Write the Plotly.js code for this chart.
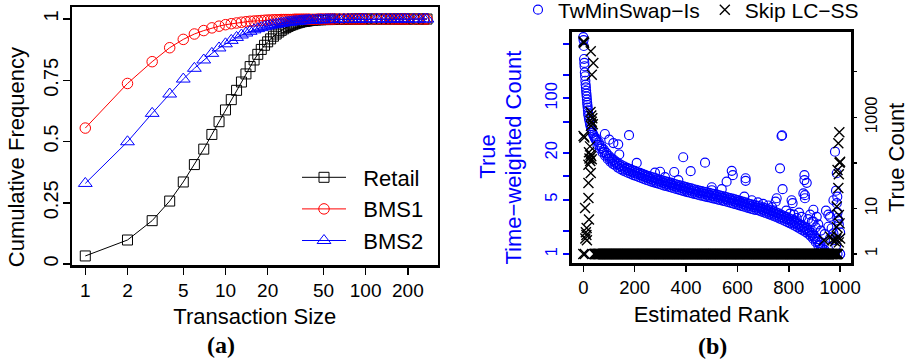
<!DOCTYPE html>
<html>
<head>
<meta charset="utf-8">
<script src="https://cdn.plot.ly/plotly-3.0.1.min.js"></script>
<style>html,body{margin:0;padding:0;background:#fff;}#chart{width:913px;height:363px;}</style>
</head>
<body>
<div id="chart"></div>
<script>
// ---------- Panel (a): cumulative frequency of transaction size ----------
const transactionSize = [1,2,3,4,5,6,7,8,9,10,11,12,13,14,15,16,17,18,19,20,21,22,23,24,25,26,27,28,29,30,31,32,33,34,35,36,37,38,39,40,42,44,46,48,50,52,54,56,58,60,65,70,75,80,85,90,95,100,110,120,130,140,150,160,170,180,190,200,220,240,260,274];
const retailCdf = [0.033,0.098,0.177,0.257,0.335,0.406,0.469,0.529,0.581,0.629,
  0.671,0.709,0.743,0.776,0.806,0.833,0.856,0.876,0.893,0.907,
  0.919,0.930,0.939,0.947,0.954,0.960,0.965,0.970,0.974,0.977,
  0.980,0.983,0.985,0.987,0.989,0.990,0.991,0.992,0.993,0.994,
  0.995,0.996,0.997,0.997,0.998,0.998,0.998,0.998,0.999,0.999,
  0.999,0.999,0.999,1,1,1,1,1,
  1,1,1,1,1,1,1,1,1,1,
  1,1,1,1];
const bms1Cdf = [0.555,0.737,0.826,0.883,0.917,0.939,0.953,0.964,0.971,0.977,
  0.981,0.984,0.987,0.989,0.991,0.992,0.993,0.994,0.995,0.996,
  0.996,0.997,0.997,0.997,0.998,0.998,0.998,0.998,0.998,0.998,
  0.999,0.999,0.999,0.999,0.999,0.999,0.999,0.999,0.999,0.999,
  0.999,0.999,1,1,1,1,1,1,1,1,
  1,1,1,1,1,1,1,1,
  1,1,1,1,1,1,1,1,1,1,
  1,1,1,1];
const bms2Cdf = [0.329,0.499,0.615,0.694,0.755,0.799,0.833,0.860,0.882,0.899,
  0.913,0.925,0.935,0.943,0.950,0.956,0.961,0.965,0.969,0.972,
  0.975,0.977,0.979,0.981,0.983,0.984,0.986,0.987,0.988,0.989,
  0.990,0.991,0.991,0.992,0.993,0.993,0.994,0.994,0.995,0.995,
  0.996,0.996,0.997,0.997,0.997,0.998,0.998,0.998,0.998,0.998,
  0.998,0.999,0.999,0.999,0.999,0.999,1,1,
  1,1,1,1,1,1,1,1,1,1,
  1,1,1,1];
const sizeTicks = [1,2,5,10,20,50,100,200];
const freqTicks = [0,0.25,0.5,0.75,1];
const freqTickText = ['0','0.25','0.5','0.75','1'];

// ---------- Panel (b): true counts vs estimated rank ----------
const twHeadRank = [0,1,2,3,4,5,6,7,8,9,10,11,12,13,14,15,16,17,18,19,20,22,24,26,28,30,33,36,39,42,45,48];
const twHeadCount = [610,560,470,320,285,258,215,192,168,150,138,125,115,106,97,88,82,76,70,64,60,55,51,47,44,41.5,38.5,36,34,32.5,31,29.5];
const twMainRank = [50,55,60,65,70,75,80,85,90,95,100,105,110,115,120,125,130,135,140,145,
  150,155,160,165,170,175,180,185,190,195,200,205,210,215,220,225,230,235,240,245,
  250,255,260,265,270,275,280,285,290,295,300,305,310,315,320,325,330,335,340,345,
  350,355,360,365,370,375,380,385,390,395,400,405,410,415,420,425,430,435,440,445,
  450,455,460,465,470,475,480,485,490,495,500,505,510,515,520,525,530,535,540,545,
  550,555,560,565,570,575,580,585,590,595,600,605,610,615,620,625,630,635,640,645,
  650,655,660,665,670,675,680,685,690,695,700,705,710,715,720,725,730,735,740,745,
  750,755,760,765,770,775,780,785,790,795,800,805,810,815,820,825,830,835,840,845,
  850,855,860,865,870,875,880,885,890,895,900,905,910,915,920,925,930,935,940,945,
  950,960,970,980,990,1000];
const twMainCount = [30.5,25.2,27.1,22.5,24.4,20.2,21.9,18.3,19.9,16.6,
  18.2,15.4,17.0,14.4,16.1,13.7,15.2,12.9,14.4,12.3,
  13.8,11.8,13.3,11.4,12.8,11.0,12.4,10.7,12.0,10.3,
  11.7,10.05,11.3,9.77,11.0,9.49,10.7,9.21,10.4,8.95,
  10.1,8.72,9.84,8.51,9.63,8.32,9.42,8.13,9.2,7.95,
  8.99,7.76,8.77,7.57,8.56,7.41,8.4,7.27,8.24,7.11,
  8.03,6.94,7.86,6.8,7.7,6.66,7.54,6.52,7.38,6.38,
  7.22,6.24,7.06,6.12,6.96,6.01,6.79,5.89,6.69,5.77,
  6.53,5.66,6.42,5.56,6.31,5.47,6.21,5.38,6.1,5.28,
  5.99,5.19,5.89,5.1,5.78,5.0,5.67,4.91,5.56,4.82,
  5.46,4.72,5.35,4.63,5.24,4.53,5.14,4.44,5.03,4.35,
  4.92,4.25,4.82,4.16,4.71,4.07,4.6,3.97,4.49,3.88,
  4.39,3.79,4.28,3.72,4.23,3.67,4.17,3.6,4.07,3.51,
  3.96,3.41,3.85,3.32,3.75,3.23,3.64,3.13,3.53,3.04,
  3.42,2.95,3.32,2.85,3.21,2.76,3.1,2.66,3.0,2.57,
  2.89,2.48,2.78,2.38,2.68,2.29,2.57,2.2,2.46,2.1,
  2.35,2.01,2.25,1.92,2.14,1.82,2.03,1.71,1.87,1.57,
  1.71,1.43,1.55,1.29,1.39,1.15,1.23,1.03,1.12,1.0,
  1,1,1,1,1,1];
const twMidRank = [52,62,72,82,92,102,112,122,132,142,152,162,172,182,192,202,212,222,232,242,
  252,262,272,282,292,302,312,322,332,342,352,362,372,382,392,402,412,422,432,442,
  452,462,472,482,492,502,512,522,532,542,552,562,572,582,592,602,612,622,632,642,
  652,662,672,682,692,702,712,722,732,742,752,762,772,782,792,802,812,822,832,842,
  852,862,872,882,892,902,912,922,932,942];
const twMidCount = [28.5,25.3,22.8,20.5,18.6,17.0,15.9,15.0,14.2,13.5,12.9,12.4,12.0,11.6,11.2,10.9,10.6,10.3,10.0,9.7,
  9.45,9.2,9.0,8.8,8.6,8.4,8.2,8.0,7.85,7.7,7.5,7.35,7.2,7.05,6.9,6.75,6.6,6.5,6.35,6.25,
  6.1,6.0,5.9,5.8,5.7,5.6,5.5,5.4,5.3,5.2,5.1,5.0,4.9,4.8,4.7,4.6,4.5,4.4,4.3,4.2,
  4.1,4.0,3.95,3.9,3.8,3.7,3.6,3.5,3.4,3.3,3.2,3.1,3.0,2.9,2.8,2.7,2.6,2.5,2.4,2.3,
  2.2,2.1,2.0,1.9,1.75,1.6,1.45,1.3,1.15,1.05];
const twOutRank = [26,84,101,117,136,140,178,208,279,299,318,354,370,389,418,474,
  500,500,539,558,578,582,627,632,632,656,680,700,720,735,749,753,766,772,774,776,
  790,805,811,815,820,831,840,850,857,861,861,863,863,870,875,883,890,896,896,905,
  909,915,925,940,945,954,954,961,961,967,974,974,975,980,984,985,987,987,989,989,
  990,993,995,1000,1000];
const twOutCount = [1,34.8,29.4,26.6,25.6,19.0,33.6,14.8,11.1,11.4,9.7,11.3,8.9,17.5,11.6,14.9,
  7.2,6.6,6.8,8.5,11.7,10.3,5.45,9.4,8.7,4.9,4.6,4.4,4.2,4.0,4.7,5.2,12.6,32.8,33.5,6.8,
  3.6,3.3,4.9,4.5,3.2,2.9,3.4,3.0,6.0,10.3,8.9,5.7,5.2,8.2,2.8,3.2,2.6,3.7,2.6,2.2,
  3.0,2.4,2.0,1.8,3.6,3.2,2.24,3.0,1.6,2.14,4.9,1.84,1.5,20.6,6.5,1.3,10.9,4.5,5.45,2.9,
  3.4,2.7,2.4,1.9,1.0];

const skipBandRank = [45,50,55,60,65,70,75,80,85,90,95,100,105,110,115,120,125,130,135,140,
  145,150,155,160,165,170,175,180,185,190,195,200,205,210,215,220,225,230,235,240,
  245,250,255,260,265,270,275,280,285,290,295,300,305,310,315,320,325,330,335,340,
  345,350,355,360,365,370,375,380,385,390,395,400,405,410,415,420,425,430,435,440,
  445,450,455,460,465,470,475,480,485,490,495,500,505,510,515,520,525,530,535,540,
  545,550,555,560,565,570,575,580,585,590,595,600,605,610,615,620,625,630,635,640,
  645,650,655,660,665,670,675,680,685,690,695,700,705,710,715,720,725,730,735,740,
  745,750,755,760,765,770,775,780,785,790,795,800,805,810,815,820,825,830,835,840,
  845,850,855,860,865,870,875,880,885,890,895,900,905,910,915,920,925,930,935,940,
  945,950,955,960,965,970,975,980,985,990];
const skipBandCount = [1,1,1,1,1,1,1,1,1,1,1,1,1,1,1,1,1,1,1,1,
  1,1,1,1,1,1,1,1,1,1,1,1,1,1,1,1,1,1,1,1,
  1,1,1,1,1,1,1,1,1,1,1,1,1,1,1,1,1,1,1,1,
  1,1,1,1,1,1,1,1,1,1,1,1,1,1,1,1,1,1,1,1,
  1,1,1,1,1,1,1,1,1,1,1,1,1,1,1,1,1,1,1,1,
  1,1,1,1,1,1,1,1,1,1,1,1,1,1,1,1,1,1,1,1,
  1,1,1,1,1,1,1,1,1,1,1,1,1,1,1,1,1,1,1,1,
  1,1,1,1,1,1,1,1,1,1,1,1,1,1,1,1,1,1,1,1,
  1,1,1,1,1,1,1,1,1,1,1,1,1,1,1,1,1,1,1,1,
  1,1,1,1,1,1,1,1,1,1];
const skipOutRank = [1,2,3,29,39,33,28,31,35,33,37,30,1,4,26,22,28,31,24,33,27,20,29,20,20,7,22,13,10,12,8,14,0,6,
  997,993,1000,998,990,995,993,987,995,998,987,937,961,970,980,990,1000,985,995];
const skipOutCount = [46000,44000,43000,28000,15500,8600,1300,1100,950,800,700,650,390,360,230,170,150,140,125,120,110,91,60,36,17,10.2,5.7,3.7,3.0,2.6,2.2,2.0,1,1,
  470,270,106,100,70,56,28,11,7.2,4.7,3.9,2.0,2.4,2.0,1.9,2.4,2.2,2.1,1.8];
const rankTicks = [0,200,400,600,800,1000];
const twTicks = [1,2,5,10,20,50,100,200,500];
const twTickText = ['1','','5','','20','','100','',''];
const countTicks = [1,10,100,1000,10000];
const countTickText = ['1','10','','1000',''];

const FONT = '"Liberation Sans", Arial, Helvetica, sans-serif';
const SERIF = '"Liberation Serif", "Times New Roman", serif';
const BLUE = '#0000ff';
const GAP = '\u00a0\u00a0';

const traces = [
  {x: transactionSize, y: retailCdf, name: GAP + 'Retail', type: 'scatter', mode: 'lines+markers',
   xaxis: 'x', yaxis: 'y', legend: 'legend',
   line: {color: '#000000', width: 1}, marker: {symbol: 'square-open', size: 10, color: '#000000', line: {width: 1}}},
  {x: transactionSize, y: bms1Cdf, name: GAP + 'BMS1', type: 'scatter', mode: 'lines+markers',
   xaxis: 'x', yaxis: 'y', legend: 'legend',
   line: {color: '#ff0000', width: 1}, marker: {symbol: 'circle-open', size: 10.5, color: '#ff0000', line: {width: 1}}},
  {x: transactionSize, y: bms2Cdf, name: GAP + 'BMS2', type: 'scatter', mode: 'lines+markers',
   xaxis: 'x', yaxis: 'y', legend: 'legend',
   line: {color: BLUE, width: 1}, marker: {symbol: 'triangle-up-open', size: 12, color: BLUE, line: {width: 1}}},
  {x: twHeadRank.concat(twMainRank, twMidRank, twOutRank), y: twHeadCount.concat(twMainCount, twMidCount, twOutCount),
   name: 'TwMinSwap\u2212Is', type: 'scatter', mode: 'markers', xaxis: 'x2', yaxis: 'y2', legend: 'legend2',
   marker: {symbol: 'circle-open', size: 9, color: BLUE, line: {width: 1.15}}},
  {x: skipOutRank, y: skipOutCount, legendgroup: 'skip',
   name: 'Skip LC\u2212SS', type: 'scatter', mode: 'markers', xaxis: 'x2', yaxis: 'y3', legend: 'legend2',
   marker: {symbol: 'x-thin-open', size: 10, color: '#000000', line: {width: 1.4, color: '#000000'}}},
  {x: skipBandRank, y: skipBandCount, legendgroup: 'skip', showlegend: false,
   name: 'Skip LC\u2212SS', type: 'scatter', mode: 'markers', xaxis: 'x2', yaxis: 'y3', legend: 'legend2',
   marker: {symbol: 'x-thin-open', size: 10, color: '#000000', line: {width: 2.4, color: '#000000'}}}
];

const baseAxis = {showgrid: false, zeroline: false, showline: true, mirror: true, linecolor: '#000', linewidth: 2.5,
  ticks: 'outside', tickcolor: '#000', automargin: false};

const layout = {
  width: 913, height: 363,
  margin: {l: 0, r: 0, t: 0, b: 0, autoexpand: false},
  paper_bgcolor: '#fff', plot_bgcolor: '#fff',
  font: {family: FONT, color: '#000', size: 20},
  showlegend: true,
  xaxis: Object.assign({}, baseAxis, {
    domain: [72/913, 437.7/913], anchor: 'y', type: 'log', range: [-0.0948, 2.514],
    tickmode: 'array', tickvals: sizeTicks, ticktext: sizeTicks.map(String),
    ticklen: 7, tickwidth: 1.5, tickfont: {size: 19, family: FONT},
    title: {text: 'Transaction Size', font: {size: 22, family: FONT}, standoff: 9}
  }),
  yaxis: Object.assign({}, baseAxis, {
    domain: [1 - 265/363, 1 - 7.3/363], anchor: 'x', range: [-0.004, 1.048],
    tickmode: 'array', tickvals: freqTicks, ticktext: freqTickText, tickangle: -90,
    ticklen: 7, tickwidth: 1.5, tickfont: {size: 20, family: FONT}, ticklabelstandoff: -3
  }),
  xaxis2: Object.assign({}, baseAxis, {
    domain: [571.7/913, 851/913], anchor: 'y2', range: [-45.2, 1042.4],
    tickmode: 'array', tickvals: rankTicks, ticktext: rankTicks.map(String),
    ticklen: 6, tickwidth: 1.5, tickfont: {size: 18.5, family: FONT},
    title: {text: 'Estimated Rank', font: {size: 22, family: FONT}, standoff: 10}
  }),
  yaxis2: Object.assign({}, baseAxis, {
    domain: [1 - 263.3/363, 1 - 31.7/363], anchor: 'x2', type: 'log', range: [-0.1195, 2.8555],
    tickmode: 'array', tickvals: twTicks, ticktext: twTickText, tickangle: -90,
    ticklen: 6, tickwidth: 2, tickcolor: BLUE, tickfont: {size: 16.5, color: BLUE, family: FONT}
  }),
  yaxis3: {
    overlaying: 'y2', side: 'right', anchor: 'x2', type: 'log', range: [-0.204, 4.878],
    showgrid: false, zeroline: false, showline: false, automargin: false,
    tickmode: 'array', tickvals: countTicks, ticktext: countTickText, tickangle: -90,
    ticks: 'outside', ticklen: 5, tickwidth: 1.5, tickcolor: '#000', tickfont: {size: 16.5, color: '#000', family: FONT}
  },
  legend: {x: 297/913, xanchor: 'left', y: (363 - 209)/363, yanchor: 'middle',
    bgcolor: 'rgba(0,0,0,0)', borderwidth: 0, font: {size: 22, family: FONT}, itemwidth: 44, tracegroupgap: 0},
  legend2: {orientation: 'h', x: 518/913, xanchor: 'left', y: (363 - 10)/363, yanchor: 'middle',
    bgcolor: 'rgba(0,0,0,0)', borderwidth: 0, font: {size: 21, family: FONT}, itemwidth: 30},
  annotations: [
    {text: 'Cumulative Frequency', xref: 'paper', yref: 'paper', x: 16.7/913, y: (363 - 157.5)/363,
     textangle: -90, showarrow: false, xanchor: 'center', yanchor: 'middle', font: {size: 22, family: FONT}},
    {text: 'True', xref: 'paper', yref: 'paper', x: 488/913, y: (363 - 156.7)/363,
     textangle: -90, showarrow: false, xanchor: 'center', yanchor: 'middle', font: {size: 22, color: BLUE, family: FONT}},
    {text: 'Time\u2212weighted Count', xref: 'paper', yref: 'paper', x: 513/913, y: (363 - 157.5)/363,
     textangle: -90, showarrow: false, xanchor: 'center', yanchor: 'middle', font: {size: 22, color: BLUE, family: FONT}},
    {text: 'True Count', xref: 'paper', yref: 'paper', x: 897/913, y: (363 - 158)/363,
     textangle: -90, showarrow: false, xanchor: 'center', yanchor: 'middle', font: {size: 22, family: FONT}},
    {text: '<b>(a)</b>', xref: 'paper', yref: 'paper', x: 220.7/913, y: (363 - 345)/363,
     showarrow: false, xanchor: 'center', yanchor: 'middle', font: {size: 24, family: SERIF}},
    {text: '<b>(b)</b>', xref: 'paper', yref: 'paper', x: 712.3/913, y: (363 - 346)/363,
     showarrow: false, xanchor: 'center', yanchor: 'middle', font: {size: 24, family: SERIF}}
  ]
};

Plotly.newPlot('chart', traces, layout, {staticPlot: true, displayModeBar: false});
</script>
</body>
</html>
